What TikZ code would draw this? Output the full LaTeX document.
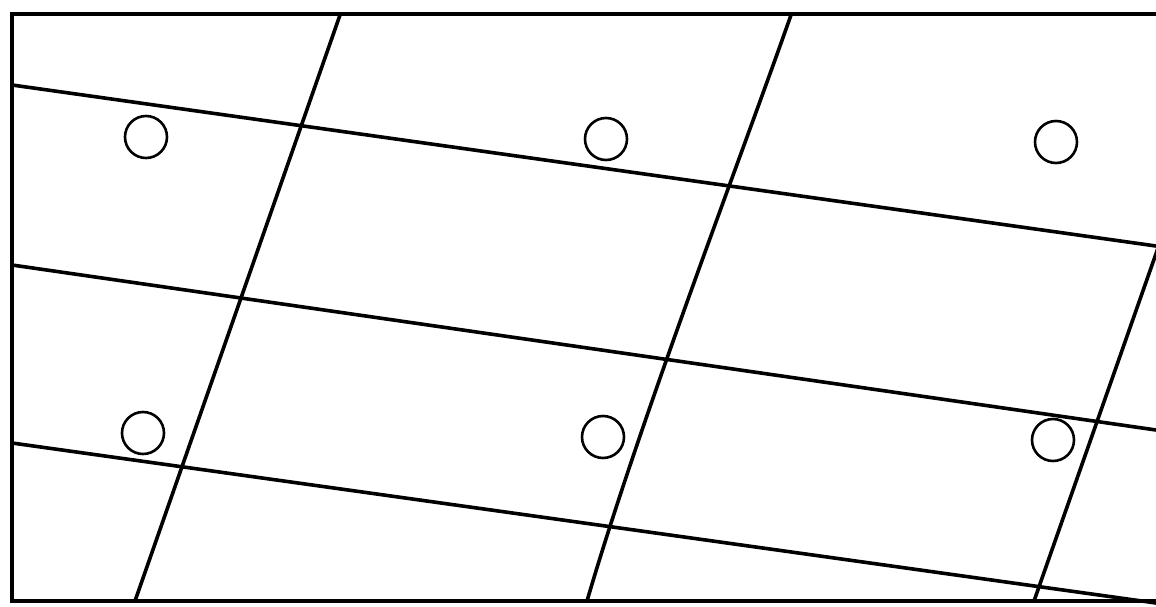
\documentclass[tikz,border=0pt]{standalone}
\begin{document}
\begin{tikzpicture}[x=1pt,y=-1pt,
  frame/.style={line width=4.5pt,black},
  gridline/.style={line width=3.6pt,black,line cap=round},
  hole/.style={circle,draw=black,line width=2.6pt,minimum size=42pt,inner sep=0pt}]
\useasboundingbox (0,0) rectangle (1156,607);
% frame
\draw[frame] (1158,14) -- (12,14) -- (12,601) -- (1158,601);
% near-horizontal lines
\coordinate (h1a) at (12,85);  \coordinate (h1b) at (1156,246);
\coordinate (h2a) at (12,265); \coordinate (h2b) at (1156,430);
\coordinate (h3a) at (12,443); \coordinate (h3b) at (1156,603);
\draw[gridline] (h1a) -- (h1b);
\draw[gridline] (h2a) -- (h2b);
\draw[gridline] (h3a) -- (h3b);
% near-vertical lines
\coordinate (v1a) at (340,15);  \coordinate (v1b) at (135,601);
\coordinate (v2a) at (791,15);  \coordinate (v2b) at (587,601);
\coordinate (v3a) at (1158,248); \coordinate (v3b) at (1034,601);
\draw[gridline] (v1a) -- (v1b);
\draw[gridline] (v2a) .. controls (740,160) and (640,420) .. (v2b);
\draw[gridline] (v3a) -- (v3b);
% holes
\node[hole] (c1) at (146,137) {};
\node[hole] (c2) at (606,139) {};
\node[hole] (c3) at (1056,142) {};
\node[hole] (c4) at (143,433) {};
\node[hole] (c5) at (603,437) {};
\node[hole] (c6) at (1053,440) {};
\end{tikzpicture}
\end{document}
